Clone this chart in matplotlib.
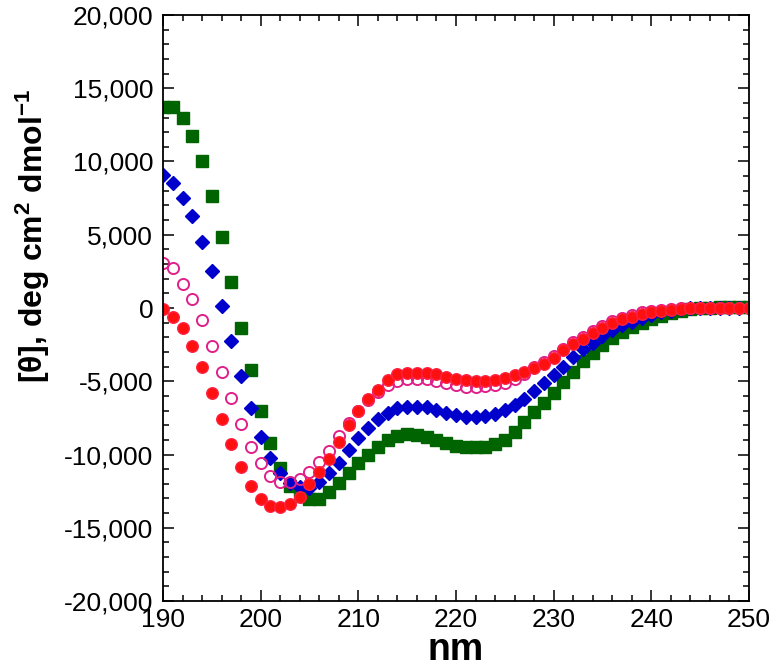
import matplotlib
matplotlib.use("Agg")
import matplotlib.pyplot as plt
from matplotlib.ticker import MultipleLocator, FuncFormatter

plt.rcParams['font.family'] = ['Liberation Sans', 'DejaVu Sans']
plt.rcParams['mathtext.fontset'] = 'custom'
plt.rcParams['mathtext.rm'] = 'Liberation Sans'
plt.rcParams['mathtext.bf'] = 'Liberation Sans:bold'
plt.rcParams['mathtext.default'] = 'bf'

nm = list(range(190, 251))

green_sq = [13700, 13700, 13000, 11750, 10000, 7650, 4870, 1750, -1350, -4230,
            -7030, -9235, -10940, -12150, -12800, -13060, -13060, -12580, -11965, -11250,
            -10600, -10035, -9470, -9010, -8740, -8600, -8670, -8830, -9010, -9235,
            -9420, -9510, -9510, -9465, -9280, -9010, -8440, -7760, -7100, -6465,
            -5780, -5030, -4350, -3620, -3050, -2525, -2070, -1620, -1275, -1000,
            -770, -545, -320, -180, -50, 0, 30, 40, 40, 40, 40]

blue_dia = [9080, 8510, 7530, 6300, 4505, 2525, 155, -2250, -4630, -6800,
            -8785, -10260, -11285, -11925, -12220, -12265, -11860, -11245, -10580, -9690,
            -8895, -8210, -7600, -7145, -6845, -6735, -6735, -6735, -6960, -7145,
            -7305, -7420, -7420, -7375, -7235, -6960, -6620, -6230, -5690, -5100,
            -4575, -4010, -3370, -2820, -2370, -1915, -1500, -1160, -935, -705,
            -480, -300, -180, -90, -30, 0, 0, 0, 0, 0, 0]

pink_open = [3093, 2750, 1660, 615, -810, -2595, -4390, -6165, -7930, -9470,
             -10580, -11480, -11860, -11900, -11650, -11175, -10490, -9740, -8740, -7870,
             -7050, -6300, -5700, -5260, -4960, -4870, -4870, -4870, -4960, -5140,
             -5260, -5370, -5370, -5330, -5260, -5115, -4870, -4500, -4000, -3700,
             -3300, -2800, -2350, -1950, -1550, -1200, -900, -650, -450, -300,
             -200, -120, -60, 0, 0, 0, 0, 0, 0, 0, 0]

red_fill = [-70, -600, -1340, -2595, -4050, -5820, -7600, -9285, -10830, -12170,
            -13050, -13480, -13560, -13350, -12900, -12010, -11175, -10310, -9125, -8000,
            -7000, -6230, -5600, -4915, -4525, -4415, -4415, -4415, -4525, -4730,
            -4865, -4915, -4960, -4960, -4915, -4800, -4575, -4350, -4115, -3825,
            -3390, -2865, -2480, -2115, -1730, -1345, -1045, -770, -590, -430,
            -290, -205, -135, -90, -20, 20, 20, 20, 20, 20, 20]

dpi = 100
fig = plt.figure(figsize=(772 / dpi, 669 / dpi), dpi=dpi)
ax = fig.add_axes([0.2111, 0.1016, 0.7591, 0.876])

ax.plot(nm, green_sq, 's', color='#006400', ms=8, mec='#006400', ls='none')
ax.plot(nm, blue_dia, 'D', color='#0000CC', ms=7, mec='#0000CC', ls='none')
ax.plot(nm, pink_open, 'o', mfc='none', mec='#E0208A', mew=1.4, ms=8, ls='none')
ax.plot(nm, red_fill, 'o', color='#FF1010', mec='#FF2040', ms=8.3, ls='none')

ax.set_xlim(190, 250)
ax.set_ylim(-20000, 20000)
ax.xaxis.set_major_locator(MultipleLocator(10))
ax.xaxis.set_minor_locator(MultipleLocator(2))
ax.yaxis.set_major_locator(MultipleLocator(5000))
ax.yaxis.set_minor_locator(MultipleLocator(1000))
ax.yaxis.set_major_formatter(FuncFormatter(lambda v, p: f"{int(round(v)):,}"))

ax.tick_params(which='both', direction='in', top=True, right=True, width=1.1)
ax.tick_params(which='major', length=8, labelsize=19, pad=5)
ax.tick_params(which='minor', length=4.5)
ax.tick_params(axis='y', which='major', pad=7)
for s in ax.spines.values():
    s.set_linewidth(1.3)

ax.set_xlabel('nm', fontsize=27, fontweight='bold', labelpad=0)
ax.set_ylabel(r'[θ], deg cm$^{2}$ dmol$^{-1}$', fontsize=23, fontweight='bold')
ax.yaxis.set_label_coords(-0.19, 0.623)

fig.savefig('out.png', dpi=dpi)
